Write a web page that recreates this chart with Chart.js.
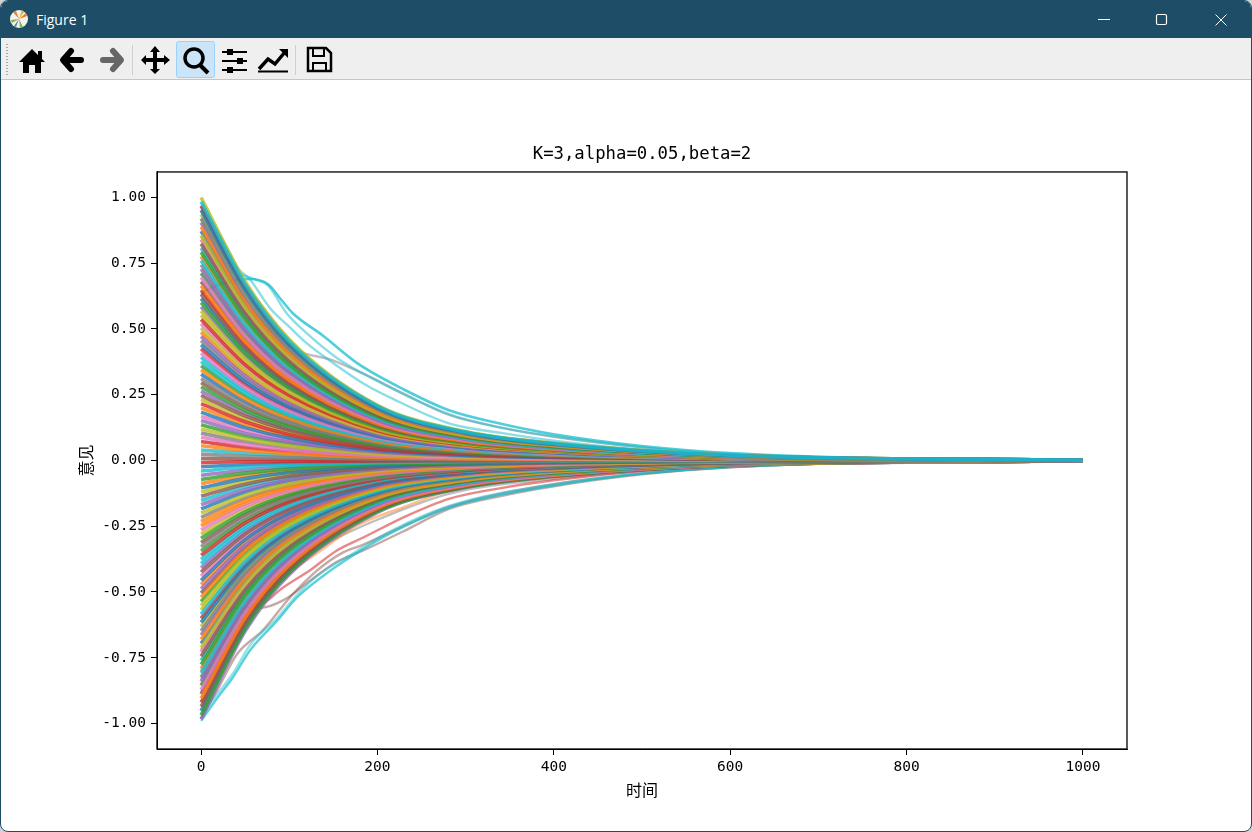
<!DOCTYPE html>
<html>
<head>
<meta charset="utf-8">
<title>Figure 1</title>
<script src="https://cdn.jsdelivr.net/npm/chart.js@4"></script>
<style>
html, body { margin: 0; padding: 0; width: 1252px; height: 832px; overflow: hidden; background: #cfd3d6; }
#win { position: absolute; left: 0; top: 0; width: 1250px; height: 830px; border: 1px solid #1e4d68; border-radius: 8px; overflow: hidden; background: #fff; }
#titlebar { position: absolute; left: 0; top: 0; width: 1250px; height: 37px; background: #1e4d68; color: #fff; font: 14px "Open Sans", "Noto Sans", sans-serif; }
#titlebar span { position: absolute; left: 35px; top: 9px; }
#toolbar { position: absolute; left: 0; top: 37px; width: 1250px; height: 41px; background: #efefef; border-bottom: 1px solid #c6c6c6; }
svg { position: absolute; left: 0; top: 0; }
#plot { position: absolute; left: 0; top: 79px; }
</style>
</head>
<body>
<div id="win">
  <div id="titlebar">
    <svg width="1250" height="37">
      <circle cx="18" cy="18" r="9" fill="#f4f1e8"/>
      <path d="M18 18L12 11L15 10Z" fill="#e8792b"/><path d="M18 18L25 12L26 15Z" fill="#e8792b"/>
      <path d="M18 18L11 22L10 19Z" fill="#79b85a"/><path d="M18 18L22 26L19 27Z" fill="#79b85a"/>
      <path d="M18 18L21 9L23 11Z" fill="#d9b23c"/><path d="M18 18L13 25L15 26Z" fill="#5a7fa8"/>
      <path d="M1097 18.500H1109" stroke="#fff" stroke-width="1"/>
      <rect x="1155.500" y="13.500" width="10" height="10" rx="1.500" fill="none" stroke="#fff" stroke-width="1.200"/>
      <path d="M1214.500 13.500L1225.500 24.500M1225.500 13.500L1214.500 24.500" stroke="#fff" stroke-width="1"/>
    </svg>
    <span>Figure 1</span>
  </div>
  <div id="toolbar">
    <svg width="1250" height="41">
      <path d="M6 6V38" stroke="#a8a8a8" stroke-width="2" stroke-dasharray="1 2"/>
      <!-- home -->
      <path d="M31 11L37 17V13H41V21L44 24H40V35H34V27H28V35H22V24H18Z" fill="#000"/>
      <!-- back -->
      <path d="M65 22H80M70 13L62 22L70 31" fill="none" stroke="#000" stroke-width="6" stroke-linecap="round" stroke-linejoin="round"/>
      <!-- forward -->
      <path d="M117 22H102M112 13L120 22L112 31" fill="none" stroke="#666" stroke-width="6" stroke-linecap="round" stroke-linejoin="round"/>
      <path d="M131.500 7V37" stroke="#cfcfcf" stroke-width="1"/>
      <!-- pan -->
      <path d="M154 8L159 14H156V20H163V17L169 22L163 27V24H156V31H159L154 36L149 31H152V24H145V27L140 22L145 17V20H152V14H149Z" fill="#000"/>
      <!-- zoom, active -->
      <rect x="175.500" y="3.500" width="38" height="36" rx="2" fill="#cce4f7" stroke="#99d1ff"/>
      <circle cx="193" cy="20" r="9" fill="none" stroke="#000" stroke-width="3.500"/>
      <path d="M199 27L207 35" stroke="#000" stroke-width="4"/>
      <!-- sliders -->
      <path d="M221 14H246M221 23H246M221 32H246" stroke="#000" stroke-width="2"/>
      <rect x="226" y="11" width="6" height="6" fill="#000"/><rect x="236" y="20" width="6" height="6" fill="#000"/><rect x="226" y="29" width="6" height="6" fill="#000"/>
      <!-- subplots line -->
      <path d="M258 31L267 21L274 26L284 14" fill="none" stroke="#000" stroke-width="3.500"/>
      <path d="M278 11H287V20Z" fill="#000"/>
      <path d="M257 33.500H287" stroke="#000" stroke-width="2"/>
      <path d="M294.500 7V37" stroke="#cfcfcf" stroke-width="1"/>
      <!-- save -->
      <path d="M307 10H325L330 15V33H307Z" fill="none" stroke="#000" stroke-width="2.500"/>
      <path d="M312 10H323V18H312Z" fill="none" stroke="#000" stroke-width="2"/>
      <path d="M312 33V25H325V33" fill="none" stroke="#000" stroke-width="2"/>
    </svg>
  </div>
  <canvas id="plot" width="1250" height="751"></canvas>
</div>
<script>
const chartTitle = 'K=3,alpha=0.05,beta=2';
const xLabel = '时间';
const yLabel = '意见';
const xTicks = [0, 200, 400, 600, 800, 1000];
const yTicks = [-1, -0.75, -0.5, -0.25, 0, 0.25, 0.5, 0.75, 1];

// sample times for the main fan of opinions
const times = [0, 50, 100, 200, 300, 400, 600, 1000];

const fanA = [
  [1,.68,.46,.21,.11,.065,.02,.001],[.968,.66,.447,.205,.107,.063,.019,.001],[.936,.64,.43,.196,.103,.061,.019,.001],
  [.904,.61,.415,.19,.1,.059,.018,.001],[.872,.59,.4,.183,.096,.057,.017,.001],[.84,.57,.386,.176,.092,.055,.017,.001],
  [.808,.55,.37,.17,.089,.052,.016,.001],[.776,.53,.357,.163,.085,.05,.016,.001],[.744,.505,.342,.156,.082,.048,.015,.001],
  [.712,.484,.328,.15,.078,.046,.014,.001],[.68,.462,.313,.143,.075,.044,.014,.001],[.648,.44,.298,.136,.071,.042,.013,.001],
  [.616,.419,.283,.129,.068,.04,.012,.001],[.584,.397,.269,.123,.064,.038,.012,.001],[.552,.375,.254,.116,.061,.036,.011,.001],
  [.52,.354,.239,.109,.057,.034,.01,.001],[.488,.332,.224,.102,.054,.032,.01,0],[.456,.31,.21,.096,.05,.03,.009,0],
  [.424,.288,.195,.089,.047,.028,.008,0],[.392,.267,.18,.082,.043,.025,.008,0],[.36,.245,.166,.076,.04,.023,.007,0],
  [.328,.223,.151,.069,.036,.021,.007,0],[.296,.201,.136,.062,.033,.019,.006,0],[.264,.18,.121,.055,.029,.017,.005,0],
  [.232,.158,.107,.049,.026,.015,.005,0],[.2,.136,.092,.042,.022,.013,.004,0],[.168,.114,.077,.035,.018,.011,.003,0],
  [.136,.092,.063,.029,.015,.009,.003,0],[.104,.071,.048,.022,.011,.007,.002,0],[.072,.049,.033,.015,.008,.005,.001,0],
  [.04,.027,.018,.008,.004,.003,.001,0],[.008,.005,.004,.002,.001,.001,0,0],[-.024,-.016,-.011,-.005,-.003,-.001,0,0],
  [-.056,-.037,-.025,-.011,-.006,-.003,-.001,0],[-.088,-.058,-.039,-.018,-.009,-.005,-.002,0],[-.12,-.079,-.053,-.024,-.013,-.007,-.002,0],
  [-.152,-.1,-.067,-.03,-.016,-.009,-.003,0],[-.184,-.121,-.081,-.037,-.019,-.011,-.003,0],[-.216,-.143,-.095,-.043,-.023,-.013,-.004,0],
  [-.248,-.164,-.109,-.05,-.026,-.015,-.005,0],[-.28,-.185,-.123,-.056,-.029,-.017,-.005,0],[-.312,-.206,-.137,-.062,-.033,-.019,-.006,0],
  [-.344,-.227,-.151,-.069,-.036,-.021,-.007,0],[-.376,-.248,-.165,-.075,-.039,-.023,-.007,0],[-.408,-.269,-.18,-.082,-.043,-.025,-.008,0],
  [-.44,-.29,-.194,-.088,-.046,-.027,-.008,0],[-.472,-.312,-.208,-.094,-.05,-.029,-.009,0],[-.504,-.333,-.222,-.101,-.053,-.031,-.01,-.001],
  [-.536,-.354,-.236,-.107,-.056,-.033,-.01,-.001],[-.568,-.375,-.25,-.114,-.06,-.035,-.011,-.001],[-.6,-.396,-.264,-.12,-.063,-.037,-.011,-.001],
  [-.632,-.417,-.278,-.126,-.066,-.039,-.012,-.001],[-.664,-.438,-.292,-.133,-.07,-.041,-.013,-.001],[-.696,-.459,-.306,-.139,-.073,-.043,-.013,-.001],
  [-.728,-.48,-.32,-.146,-.076,-.045,-.014,-.001],[-.76,-.502,-.334,-.152,-.08,-.047,-.014,-.001],[-.792,-.523,-.348,-.158,-.083,-.049,-.015,-.001],
  [-.824,-.544,-.363,-.165,-.087,-.051,-.016,-.001],[-.856,-.565,-.377,-.171,-.09,-.053,-.016,-.001],[-.888,-.586,-.391,-.178,-.093,-.055,-.017,-.001],
  [-.92,-.607,-.405,-.184,-.097,-.057,-.017,-.001],[-.952,-.628,-.419,-.19,-.1,-.059,-.018,-.001],[-.984,-.649,-.433,-.197,-.103,-.061,-.019,-.001]
];

const fanB = [
  [.984,.67,.452,.207,.108,.064,.02,.001],[.952,.648,.438,.2,.105,.062,.019,.001],[.92,.625,.423,.193,.101,.06,.018,.001],
  [.888,.604,.408,.186,.098,.058,.018,.001],[.856,.582,.394,.18,.094,.056,.017,.001],[.824,.56,.379,.173,.091,.054,.016,.001],
  [.792,.539,.364,.166,.087,.051,.016,.001],[.76,.517,.35,.16,.084,.049,.015,.001],[.728,.495,.335,.153,.08,.047,.015,.001],
  [.696,.473,.32,.146,.077,.045,.014,.001],[.664,.452,.305,.139,.073,.043,.013,.001],[.632,.43,.291,.133,.07,.041,.013,.001],
  [.6,.408,.276,.126,.066,.039,.012,.001],[.568,.386,.261,.119,.062,.037,.011,.001],[.536,.364,.247,.113,.059,.035,.011,.001],
  [.504,.343,.232,.106,.055,.033,.01,.001],[.472,.321,.217,.099,.052,.031,.009,0],[.44,.299,.202,.092,.048,.029,.009,0],
  [.408,.277,.188,.086,.045,.027,.008,0],[.376,.256,.173,.079,.041,.024,.008,0],[.344,.234,.158,.072,.038,.022,.007,0],
  [.312,.212,.144,.066,.034,.02,.006,0],[.28,.19,.129,.059,.031,.018,.006,0],[.248,.169,.114,.052,.027,.016,.005,0],
  [.216,.147,.099,.045,.024,.014,.004,0],[.184,.125,.085,.039,.02,.012,.004,0],[.152,.103,.07,.032,.017,.01,.003,0],
  [.12,.082,.055,.025,.013,.008,.002,0],[.088,.06,.04,.018,.01,.006,.002,0],[.056,.038,.026,.012,.006,.004,.001,0],
  [.024,.016,.011,.005,.003,.002,0,0],[-.008,-.005,-.004,-.002,-.001,0,0,0],[-.04,-.026,-.018,-.008,-.004,-.002,-.001,0],
  [-.072,-.048,-.032,-.014,-.008,-.004,-.001,0],[-.104,-.069,-.046,-.021,-.011,-.006,-.002,0],[-.136,-.09,-.06,-.027,-.014,-.008,-.003,0],
  [-.168,-.111,-.074,-.034,-.018,-.01,-.003,0],[-.2,-.132,-.088,-.04,-.021,-.012,-.004,0],[-.232,-.153,-.102,-.046,-.024,-.014,-.004,0],
  [-.264,-.174,-.116,-.053,-.028,-.016,-.005,0],[-.296,-.195,-.13,-.059,-.031,-.018,-.006,0],[-.328,-.216,-.144,-.066,-.034,-.02,-.006,0],
  [-.36,-.238,-.158,-.072,-.038,-.022,-.007,0],[-.392,-.259,-.172,-.078,-.041,-.024,-.007,0],[-.424,-.28,-.187,-.085,-.045,-.026,-.008,0],
  [-.456,-.301,-.201,-.091,-.048,-.028,-.009,0],[-.488,-.322,-.215,-.098,-.051,-.03,-.009,0],[-.52,-.343,-.229,-.104,-.055,-.032,-.01,-.001],
  [-.552,-.364,-.243,-.11,-.058,-.034,-.01,-.001],[-.584,-.385,-.257,-.117,-.061,-.036,-.011,-.001],[-.616,-.407,-.271,-.123,-.065,-.038,-.012,-.001],
  [-.648,-.428,-.285,-.13,-.068,-.04,-.012,-.001],[-.68,-.449,-.299,-.136,-.071,-.042,-.013,-.001],[-.712,-.47,-.313,-.142,-.075,-.044,-.014,-.001],
  [-.744,-.491,-.327,-.149,-.078,-.046,-.014,-.001],[-.776,-.512,-.341,-.155,-.081,-.048,-.015,-.001],[-.808,-.533,-.356,-.162,-.085,-.05,-.015,-.001],
  [-.84,-.554,-.37,-.168,-.088,-.052,-.016,-.001],[-.872,-.576,-.384,-.174,-.092,-.054,-.017,-.001],[-.904,-.597,-.398,-.181,-.095,-.056,-.017,-.001],
  [-.936,-.618,-.412,-.187,-.098,-.058,-.018,-.001],[-.968,-.639,-.426,-.194,-.102,-.06,-.018,-.001]
];

// stragglers that stand out of the fan, [time, opinion]
const cyanThick = [[0,.63],[5,.645],[30,.68],[55,.69],[76,.67],[90,.615],[104,.56],[138,.475],[177,.37],[230,.27],[282,.19],[340,.14],[400,.1],[500,.055],[600,.028],[800,.006],[1000,.001]];
const cyanUpper = [[0,.97],[30,.806],[42,.73],[55,.69],[78,.58],[101,.505],[120,.445],[150,.37],[184,.293],[214,.24],[282,.14],[340,.105],[400,.075],[500,.04],[600,.02],[800,.004],[1000,.001]];
const cyanMiddle = [[0,.92],[40,.72],[60,.69],[76,.665],[97,.56],[120,.483],[154,.39],[192,.316],[282,.175],[340,.125],[400,.092],[500,.05],[600,.025],[800,.005],[1000,.001]];
const grayUpper = [[0,.85],[60,.56],[104,.426],[150,.38],[184,.33],[229,.255],[282,.172],[340,.125],[400,.09],[500,.05],[600,.024],[800,.005],[1000,.001]];
const orangeUpper = [[0,.95],[30,.76],[67,.597],[101,.456],[138,.342],[184,.24],[229,.163],[282,.115],[400,.068],[600,.02],[1000,.001]];
const cyanLower = [[0,-.99],[18,-.905],[36,-.825],[56,-.72],[86,-.61],[109,-.52],[138,-.44],[169,-.368],[214,-.278],[282,-.178],[340,-.13],[400,-.095],[500,-.05],[600,-.025],[800,-.005],[1000,-.001]];
const cyanLower2 = [[0,-.97],[18,-.89],[36,-.81],[56,-.7],[86,-.6],[109,-.51],[131,-.44],[169,-.36],[214,-.27],[282,-.172],[400,-.09],[600,-.024],[1000,-.001]];
const brownLower = [[0,-.98],[18,-.875],[41,-.735],[70,-.646],[101,-.52],[131,-.42],[158,-.355],[184,-.32],[229,-.25],[282,-.175],[400,-.09],[500,-.05],[600,-.025],[800,-.005],[1000,-.001]];
const brownLower2 = [[0,-.72],[40,-.56],[67,-.56],[93,-.532],[124,-.456],[154,-.385],[184,-.342],[229,-.27],[282,-.183],[340,-.135],[400,-.098],[500,-.053],[600,-.026],[800,-.005],[1000,-.001]];
const redLower = [[0,-.8],[45,-.57],[67,-.55],[93,-.483],[124,-.416],[154,-.342],[184,-.293],[229,-.217],[282,-.145],[340,-.105],[400,-.075],[500,-.04],[600,-.02],[800,-.004],[1000,-.001]];
const orangeLower = [[0,-.85],[60,-.55],[101,-.426],[131,-.354],[177,-.247],[229,-.178],[282,-.114],[400,-.065],[600,-.018],[1000,-.001]];
const grayLower = [[0,-.88],[70,-.5],[120,-.37],[146,-.31],[206,-.217],[282,-.126],[400,-.07],[600,-.02],[1000,-.001]];
const blueLower = [[0,-.83],[60,-.52],[109,-.392],[138,-.323],[169,-.247],[229,-.152],[300,-.095],[400,-.06],[600,-.018],[1000,-.001]];

const tab10 = ['31,119,180', '255,127,14', '44,160,44', '214,39,40', '148,103,189', '140,86,75', '227,119,194', '127,127,127', '188,189,34', '23,190,207'];
const colorOrder = '9071852946152838406917253048617392054816273950418';

const stragglers = [
  [cyanThick, 9, 0.75, 2.6], [cyanUpper, 9, 0.5, 2.4], [cyanMiddle, 9, 0.5, 2.4], [grayUpper, 7, 0.5, 2.4], [orangeUpper, 1, 0.45, 2.6],
  [cyanLower, 9, 0.7, 2.4], [cyanLower2, 9, 0.45, 2.4], [brownLower, 5, 0.5, 2.4], [brownLower2, 5, 0.5, 2.4], [redLower, 3, 0.55, 2.4],
  [orangeLower, 1, 0.5, 2.4], [grayLower, 7, 0.5, 2.4], [blueLower, 0, 0.5, 2.4]
];

const datasets = [];
// Chart.js paints the first dataset on top, so the fan goes first
[...fanB, ...fanA].forEach((row, i) => {
  datasets.push({
    data: row.map((v, j) => ({ x: times[j], y: v })),
    borderColor: `rgba(${tab10[+colorOrder[i % colorOrder.length]]},0.8)`,
    borderWidth: 3.6
  });
});
stragglers.forEach(([pairs, color, alpha, width]) => {
  datasets.push({
    data: pairs.map(p => ({ x: p[0], y: p[1] })),
    borderColor: `rgba(${tab10[color]},${alpha})`,
    borderWidth: width
  });
});

// matplotlib draws a box round the axes
const axesBox = {
  id: 'axesBox',
  afterDraw(chart) {
    const { left, top, width, height } = chart.chartArea;
    const ctx = chart.ctx;
    ctx.save();
    ctx.strokeStyle = '#000';
    ctx.lineWidth = 1.3;
    ctx.strokeRect(left, top, width, height);
    ctx.restore();
  }
};

const latinFont = "'DejaVu Sans Mono', 'Noto Sans CJK SC', monospace";
const cjkFont = "'Noto Sans CJK SC', sans-serif";

new Chart(document.getElementById('plot'), {
  type: 'line',
  data: { datasets },
  plugins: [axesBox],
  options: {
    responsive: false,
    animation: false,
    parsing: false,
    normalized: true,
    layout: { padding: { right: 124, left: 0, top: 0, bottom: 0 } },
    elements: { point: { radius: 0 }, line: { cubicInterpolationMode: 'monotone', fill: false } },
    plugins: {
      legend: { display: false },
      tooltip: { enabled: false },
      title: {
        display: true,
        text: chartTitle,
        color: '#000',
        fullSize: false,
        font: { family: latinFont, size: 17.3, weight: 'normal', lineHeight: 1.2 },
        padding: { top: 64.6, bottom: 6.6 }
      }
    },
    scales: {
      x: {
        type: 'linear',
        min: -50,
        max: 1050,
        afterFit: s => { s.height = 82; },
        afterBuildTicks: s => { s.ticks = xTicks.map(v => ({ value: v })); },
        grid: { drawOnChartArea: false, tickLength: 6, tickColor: '#000' },
        border: { color: '#000' },
        ticks: { color: '#000', font: { family: latinFont, size: 14.5 }, padding: 4, maxRotation: 0, autoSkip: false, callback: v => String(v) },
        title: { display: true, text: xLabel, color: '#000', font: { family: cjkFont, size: 16 }, padding: { top: 0, bottom: 31 } }
      },
      y: {
        type: 'linear',
        min: -1.097,
        max: 1.097,
        afterFit: s => { s.width = 156; },
        afterBuildTicks: s => { s.ticks = yTicks.map(v => ({ value: v })); },
        grid: { drawOnChartArea: false, tickLength: 6, tickColor: '#000' },
        border: { color: '#000' },
        ticks: { color: '#000', font: { family: latinFont, size: 14.5 }, padding: 5, autoSkip: false, callback: v => v.toFixed(2) },
        title: { display: true, text: yLabel, color: '#000', font: { family: cjkFont, size: 16 }, padding: { top: 75, bottom: 0 } }
      }
    }
  }
});
</script>
</body>
</html>
